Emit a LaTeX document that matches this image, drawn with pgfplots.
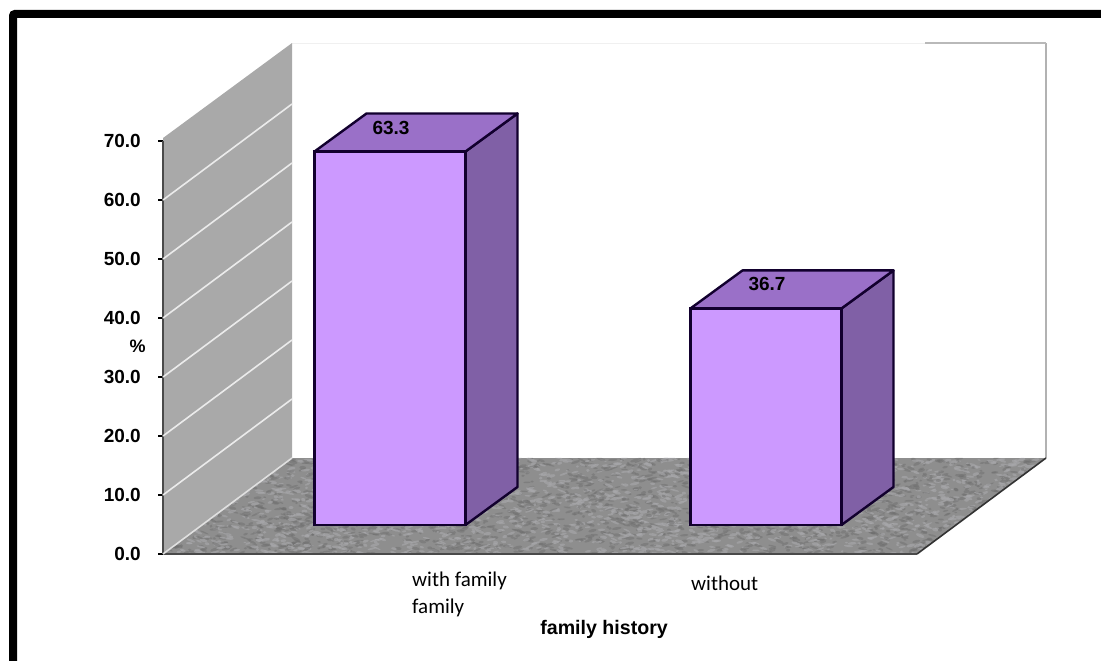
\documentclass[border=0pt]{standalone}
\usepackage{pgfplots}
\pgfplotsset{compat=1.18}
\usepackage{fontspec}
\setmainfont{Liberation Sans}
\newfontfamily\catfont{Carlito}

\definecolor{wallgray}{HTML}{A9A9A9}
\definecolor{floorgray}{HTML}{8E8E8E}
\definecolor{floordark}{HTML}{707070}
\definecolor{floorlight}{HTML}{A8A8AB}
\definecolor{barfront}{HTML}{CC99FF}
\definecolor{bartop}{HTML}{9A70C8}
\definecolor{barside}{HTML}{8060A6}
\definecolor{baredge}{HTML}{12002E}
\definecolor{axisgray}{HTML}{4A4A4A}

% All three axes share one box: the front plane of the 3-D scene
\pgfplotsset{
  scene/.style={
    anchor=south west, at={(163pt,107pt)},
    scale only axis, width=754pt, height=413pt,
    xmin=163, xmax=917, clip=false, no markers
  }
}

\begin{document}
\begin{tikzpicture}[x=1pt,y=1pt]
\useasboundingbox (0,0) rectangle (1101,661);

% outer frame, open at the bottom and on the right
\draw[line width=8pt, rounded corners=2pt] (13,0) -- (13,647) -- (1101,647);

% back wall, side wall and floor
\begin{axis}[scene, hide axis, ymin=0, ymax=70]
  \addplot[fill=white, draw=none] coordinates {(292,16.27)(1046,16.27)(1046,86.6)(292,86.6)} -- cycle;
  \addplot[draw=gray!60, line width=1.8pt] coordinates {(1046,16.27)(1046,86.6)};
  \addplot[draw=gray!55, line width=1.2pt] coordinates {(1046,86.6)(925,86.6)};
  \addplot[draw=gray!12, line width=1pt] coordinates {(925,86.6)(292,86.6)};
  \addplot[fill=wallgray, draw=none] coordinates {(163,0)(292,16.27)(292,86.6)(163,70.5)} -- cycle;
  \addplot[fill=floorgray, draw=none] coordinates {(163,0)(917,0)(1046,16.27)(292,16.27)} -- cycle;
\end{axis}

% mottled floor surface
\begin{scope}
  \clip (163,107) -- (917,107) -- (1046,203) -- (292,203) -- cycle;
  \pgfmathsetseed{4217}
  \foreach \i in {1,...,4200} {
    \pgfmathsetmacro{\px}{163+rnd*883}
    \pgfmathsetmacro{\py}{107+rnd*96}
    \pgfmathsetmacro{\rx}{1.5+rnd*3.5}
    \pgfmathsetmacro{\ry}{0.7+rnd*1.0}
    \pgfmathsetmacro{\ang}{-25+rnd*50}
    \pgfmathtruncatemacro{\pick}{mod(\i,2)}
    \ifnum\pick=0
      \fill[floordark, opacity=0.5, rotate around={\ang:(\px,\py)}] (\px,\py) ellipse [x radius=\rx, y radius=\ry];
    \else
      \fill[floorlight, opacity=0.65, rotate around={\ang:(\px,\py)}] (\px,\py) ellipse [x radius=\rx, y radius=\ry];
    \fi
  }
\end{scope}

% value axis, wall grid lines and floor edges
\begin{axis}[scene, ymin=0, ymax=70,
    axis lines=left, axis line style={-, draw=axisgray, line width=2pt},
    ytick={0,10,...,70},
    xtick={412,691},
    xticklabels={{with family\\[2pt]family},{\rule{0pt}{18pt}without}},
    x tick label style={anchor=north west, align=left, font=\catfont\fontsize{21}{25}\selectfont, inner sep=0pt, yshift=-13pt},
    y tick label style={font=\bfseries\fontsize{19}{22}\selectfont, inner sep=0pt, xshift=-17pt,
      /pgf/number format/assume math mode=true, /pgf/number format/fixed, /pgf/number format/fixed zerofill, /pgf/number format/precision=1},
    tick style={draw=black, line width=2.2pt},
    major tick length=5pt,
    x tick style={draw=none},
    tick align=outside, xtick pos=lower, ytick pos=left,
    every axis y label/.style={at={(axis description cs:-0.0335,0.5036)}, anchor=center, font=\bfseries\fontsize{18}{20}\selectfont},
    every axis x label/.style={at={(axis description cs:0.585,-0.1815)}, anchor=center, font=\bfseries\fontsize{19.6}{22}\selectfont},
    ylabel={\%}, xlabel={family history}]
  \addplot[draw=white!88!black, line width=1.6pt] coordinates {(163,0)(292,16.27)};
  \addplot[draw=white!92!black, line width=1.6pt] coordinates {(163,10)(292,26.27)};
  \addplot[draw=white!92!black, line width=1.6pt] coordinates {(163,20)(292,36.27)};
  \addplot[draw=white!92!black, line width=1.6pt] coordinates {(163,30)(292,46.27)};
  \addplot[draw=white!92!black, line width=1.6pt] coordinates {(163,40)(292,56.27)};
  \addplot[draw=white!92!black, line width=1.6pt] coordinates {(163,50)(292,66.27)};
  \addplot[draw=white!92!black, line width=1.6pt] coordinates {(163,60)(292,76.27)};
  \addplot[draw=black!80, line width=1.6pt] coordinates {(917,0)(1046,16.27)};
\end{axis}

% the columns stand on the floor, so their zero lies above the front edge
\begin{axis}[scene, hide axis, ymin=-4.92, ymax=65.08]
  \addplot[fill=barside, draw=baredge, line width=2.4pt, line join=round]
    coordinates {(465.5,0)(517.5,6.44)(517.5,69.74)(465.5,63.3)} -- cycle;
  \addplot[fill=bartop, draw=baredge, line width=2.4pt, line join=round]
    coordinates {(314.5,63.3)(465.5,63.3)(517.5,69.74)(366.5,69.74)} -- cycle;
  \addplot[fill=barside, draw=baredge, line width=2.4pt, line join=round]
    coordinates {(841.5,0)(893.5,6.44)(893.5,43.14)(841.5,36.7)} -- cycle;
  \addplot[fill=bartop, draw=baredge, line width=2.4pt, line join=round]
    coordinates {(690.5,36.7)(841.5,36.7)(893.5,43.14)(742.5,43.14)} -- cycle;
  \addplot[ybar, bar width=151, fill=barfront, draw=baredge, line width=2.4pt,
      nodes near coords,
      every node near coord/.style={anchor=center, yshift=24pt, xshift=1pt, text=black,
        font=\bfseries\fontsize{19}{22}\selectfont,
        /pgf/number format/assume math mode=true, /pgf/number format/fixed, /pgf/number format/fixed zerofill, /pgf/number format/precision=1}]
    coordinates {(390,63.3)(766,36.7)};
\end{axis}
\end{tikzpicture}
\end{document}
